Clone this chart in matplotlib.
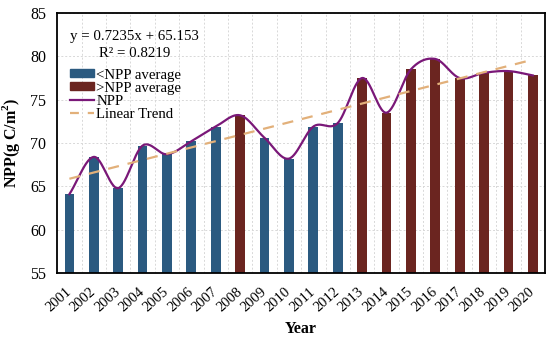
import numpy as np
import matplotlib
matplotlib.use("Agg")
import matplotlib.pyplot as plt
from matplotlib.patches import Patch
from matplotlib.lines import Line2D

plt.rcParams['font.family'] = ['Liberation Serif', 'DejaVu Serif']

# data
years = list(range(2001, 2021))
npp = [64.1, 68.4, 64.8, 69.7, 68.7, 70.2, 71.9, 73.2, 70.6, 68.2,
       71.9, 72.3, 77.5, 73.5, 78.5, 79.7, 77.5, 78.1, 78.3, 77.8]
slope = 0.7235
intercept = 65.153
r2 = 0.8219

blue = '#2B5A80'
red = '#6B2520'
purple = '#7A1878'
orange = '#E2B07A'

npp = np.array(npp)
x = np.arange(len(years))
avg = npp.mean()
colors = [red if v > avg else blue for v in npp]


def catmull_rom(xs, ys, n=30):
    # smooth curve through the points (Excel-like smoothed line)
    px = np.concatenate([[2 * xs[0] - xs[1]], xs, [2 * xs[-1] - xs[-2]]])
    py = np.concatenate([[2 * ys[0] - ys[1]], ys, [2 * ys[-1] - ys[-2]]])
    out_x, out_y = [], []
    t = np.linspace(0, 1, n)
    for i in range(1, len(px) - 2):
        for arr, out in ((px, out_x), (py, out_y)):
            p0, p1, p2, p3 = arr[i - 1], arr[i], arr[i + 1], arr[i + 2]
            seg = 0.5 * ((2 * p1) + (-p0 + p2) * t
                         + (2 * p0 - 5 * p1 + 4 * p2 - p3) * t ** 2
                         + (-p0 + 3 * p1 - 3 * p2 + p3) * t ** 3)
            out.extend(seg)
    return np.array(out_x), np.array(out_y)


fig = plt.figure(figsize=(5.5, 3.43), dpi=100)
ax = fig.add_axes([0.104, 0.204, 0.887, 0.758])

ax.bar(x, npp - 55, bottom=55, width=0.4, color=colors, zorder=2)
sx, sy = catmull_rom(x.astype(float), npp)
ax.plot(sx, sy, color=purple, linewidth=1.6, zorder=3)
trend = intercept + slope * (x + 1)
ax.plot(x, trend, color=orange, linewidth=1.6, dashes=(5, 4), zorder=4)

ax.set_xlim(-0.5, len(years) - 0.5)
ax.set_ylim(55, 85)
ax.set_yticks([55, 60, 65, 70, 75, 80, 85])
ax.set_xticks(x)
ax.set_xticklabels([str(y) for y in years], rotation=42, fontsize=10.5,
                   ha='right', va='center', rotation_mode='anchor')
ax.tick_params(axis='y', labelsize=11.5, length=0, pad=8)
ax.tick_params(axis='x', length=0, pad=12)

ax.set_xticks(x[:-1] + 0.5, minor=True)
ax.tick_params(axis='x', which='minor', length=0)
ax.grid(True, which='minor', axis='x', color='#d8d8d8', linestyle=(0, (2, 2)), linewidth=0.7)
ax.grid(True, which='major', axis='y', color='#d8d8d8', linestyle=(0, (2, 2)), linewidth=0.7)
ax.set_axisbelow(True)
for s in ax.spines.values():
    s.set_linewidth(1.3)

ax.set_xlabel('Year', fontsize=11.5, fontweight='bold', labelpad=5)
ax.set_ylabel('NPP(g C/m$^\\mathregular{2}$)', fontsize=11.5, fontweight='bold', labelpad=6)

ax.text(0.026, 0.895, 'y = 0.7235x + 65.153', transform=ax.transAxes, fontsize=10.7)
ax.text(0.085, 0.83, 'R² = %.4f' % r2, transform=ax.transAxes, fontsize=10.7)

handles = [Patch(color=blue, label='<NPP average'),
           Patch(color=red, label='>NPP average'),
           Line2D([], [], color=purple, linewidth=1.6, label='NPP'),
           Line2D([], [], color=orange, linewidth=1.6, dashes=(4, 4), label='Linear Trend')]
ax.legend(handles=handles, loc='upper left', bbox_to_anchor=(0.012, 0.815), frameon=False,
          fontsize=10.7, handlelength=1.6, handleheight=0.45, handletextpad=0.15,
          labelspacing=0.0, borderaxespad=0.3, borderpad=0.2)

fig.savefig('out.png', dpi=100)
